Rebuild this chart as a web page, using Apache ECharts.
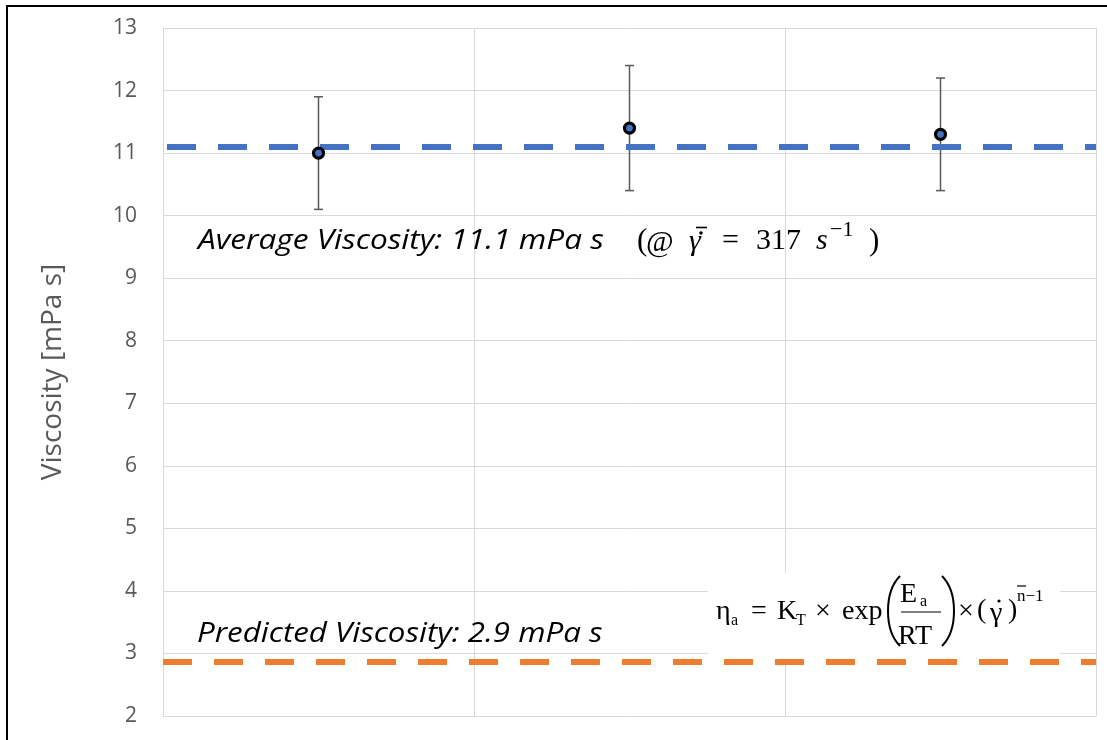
<!DOCTYPE html>
<html><head><meta charset="utf-8">
<script src="https://cdn.jsdelivr.net/npm/echarts@6/dist/echarts.min.js"></script>
<style>html,body{margin:0;padding:0;background:#fff}#c{width:1107px;height:740px}</style>
</head><body><div id="c"></div>
<script>
// ---- data ----
const categories = ['Run 1', 'Run 2', 'Run 3'];
const viscosity = [11.0, 11.4, 11.3];
const errLow = [10.1, 10.4, 10.4];
const errHigh = [11.9, 12.4, 12.2];
const averageViscosity = 11.1;
const predictedViscosity = 2.86;
const yMin = 2, yMax = 13, yInterval = 1;
const yAxisName = 'Viscosity [mPa s]';
const averageText = 'Average Viscosity: 11.1 mPa s';
const predictedText = 'Predicted Viscosity: 2.9 mPa s';

const chart = echarts.init(document.getElementById('c'), null, {renderer: 'canvas'});
const serif = '"Liberation Serif", "DejaVu Serif", serif';
const italicSans = 'italic 27px "Open Sans", sans-serif';

const errData = categories.map((c, i) => [i, errLow[i], errHigh[i]]);

function T(x, y, text, size, opts) {
  opts = opts || {};
  return {
    type: 'text', x: x, y: y, z: 3,
    style: {
      text: text,
      font: (opts.italic ? 'italic ' : '') + size + 'px ' + (opts.family || serif),
      fill: '#000',
      verticalAlign: 'middle',
      align: opts.align || 'left'
    }
  };
}
function L(x1, y1, x2, y2, w) {
  return {type: 'line', z: 3, shape: {x1: x1, y1: y1, x2: x2, y2: y2}, style: {stroke: '#000', lineWidth: w || 1.2}};
}
function D(cx, cy, r) {
  return {type: 'circle', z: 3, shape: {cx: cx, cy: cy, r: r || 1.6}, style: {fill: '#000'}};
}

const option = {
  animation: false,
  backgroundColor: '#fff',
  grid: {left: 163, right: 11, top: 28, bottom: 24, containLabel: false},
  xAxis: {
    type: 'category', data: categories, boundaryGap: true,
    axisLine: {show: false}, axisTick: {show: false}, axisLabel: {show: false},
    splitLine: {show: true, interval: 0, lineStyle: {color: '#d9d9d9', width: 1}}
  },
  yAxis: {
    type: 'value', min: yMin, max: yMax, interval: yInterval,
    name: yAxisName, nameLocation: 'middle', nameGap: 96,
    nameTextStyle: {fontFamily: '"Open Sans", sans-serif', fontSize: 28, color: '#595959'},
    axisLine: {show: false}, axisTick: {show: false},
    axisLabel: {fontFamily: '"Open Sans", sans-serif', fontSize: 21, color: '#595959', margin: 26},
    splitLine: {show: true, lineStyle: {color: '#d9d9d9', width: 1}}
  },
  graphic: [
    {type: 'rect', shape: {x: 6, y: 5, width: 2, height: 740}, style: {fill: '#000'}, z: 10},
    {type: 'rect', shape: {x: 6, y: 5, width: 1107, height: 2}, style: {fill: '#000'}, z: 10},
    {type: 'text', x: 198, y: 241, scaleX: 1.17, z: 3, style: {text: averageText, font: italicSans, fill: '#000', verticalAlign: 'middle'}},
    {type: 'text', x: 197, y: 634, scaleX: 1.16, z: 3, style: {text: predictedText, font: italicSans, fill: '#000', verticalAlign: 'middle'}},
    // math: (@ gamma-bar-dot = 317 s^-1)
    T(637, 242, '(', 31),
    T(646, 243, '@', 30),
    T(689, 242, 'γ', 30, {italic: true}),
    D(701, 233, 1.8),
    L(696, 227.5, 707, 227.5, 1.6),
    T(722, 241, '=', 30),
    T(756, 241, '317', 30),
    T(816, 241, 's', 30, {italic: true}),
    T(830, 230, '−1', 22),
    T(869, 242, ')', 31),
    // formula box
    {type: 'rect', z: 1, shape: {x: 708, y: 573, width: 352, height: 90}, style: {fill: '#fff'}},
    T(716, 612, 'η', 28),
    T(731, 621, 'a', 16),
    T(751, 612, '=', 28),
    T(777, 612, 'K', 28),
    T(796, 621, 'T', 16),
    T(815, 612, '×', 28),
    T(842, 612, 'exp', 28),
    {type: 'bezierCurve', z: 3, shape: {x1: 900, y1: 576, x2: 900, y2: 646, cpx1: 884, cpy1: 592, cpx2: 884, cpy2: 630}, style: {stroke: '#000', lineWidth: 2, fill: null}},
    {type: 'bezierCurve', z: 3, shape: {x1: 942, y1: 576, x2: 942, y2: 646, cpx1: 958, cpy1: 592, cpx2: 958, cpy2: 630}, style: {stroke: '#000', lineWidth: 2, fill: null}},
    T(900, 595, 'E', 28),
    T(920, 602, 'a', 16),
    L(901, 612, 941, 612, 1),
    T(898, 637, 'RT', 28),
    T(958, 612, '×', 28),
    T(977, 611, '(', 28),
    T(990, 614, 'γ', 28),
    D(999, 601, 1.6),
    T(1008, 611, ')', 28),
    T(1017, 597, 'n−1', 17),
    L(1017, 586, 1026, 586, 1.2)
  ],
  series: [
    {
      type: 'line', data: [], silent: true, z: 2,
      markLine: {
        silent: true, symbol: 'none', label: {show: false}, animation: false,
        lineStyle: {width: 6, type: [29, 22]},
        data: [
          {yAxis: averageViscosity, lineStyle: {color: '#4472C4', width: 6, type: [29, 22], dashOffset: 47}},
          {yAxis: predictedViscosity, lineStyle: {color: '#ED7D31', width: 6, type: [29, 22], dashOffset: 0}}
        ]
      }
    },
    {
      type: 'custom', data: errData, z: 4,
      encode: {x: 0, y: [1, 2]},
      renderItem: function (params, api) {
        const x = api.value(0);
        const lo = api.coord([x, api.value(1)]);
        const hi = api.coord([x, api.value(2)]);
        const w = 4.5;
        const st = {stroke: '#595959', lineWidth: 1.5};
        return {type: 'group', children: [
          {type: 'line', shape: {x1: lo[0], y1: lo[1], x2: hi[0], y2: hi[1]}, style: st},
          {type: 'line', shape: {x1: lo[0] - w, y1: lo[1], x2: lo[0] + w, y2: lo[1]}, style: st},
          {type: 'line', shape: {x1: hi[0] - w, y1: hi[1], x2: hi[0] + w, y2: hi[1]}, style: st}
        ]};
      }
    },
    {
      type: 'scatter', data: viscosity, z: 5,
      symbol: 'circle', symbolSize: 10,
      itemStyle: {color: '#4472C4', borderColor: '#000', borderWidth: 3.2, opacity: 1}
    }
  ]
};
chart.setOption(option);
</script>
</body></html>
